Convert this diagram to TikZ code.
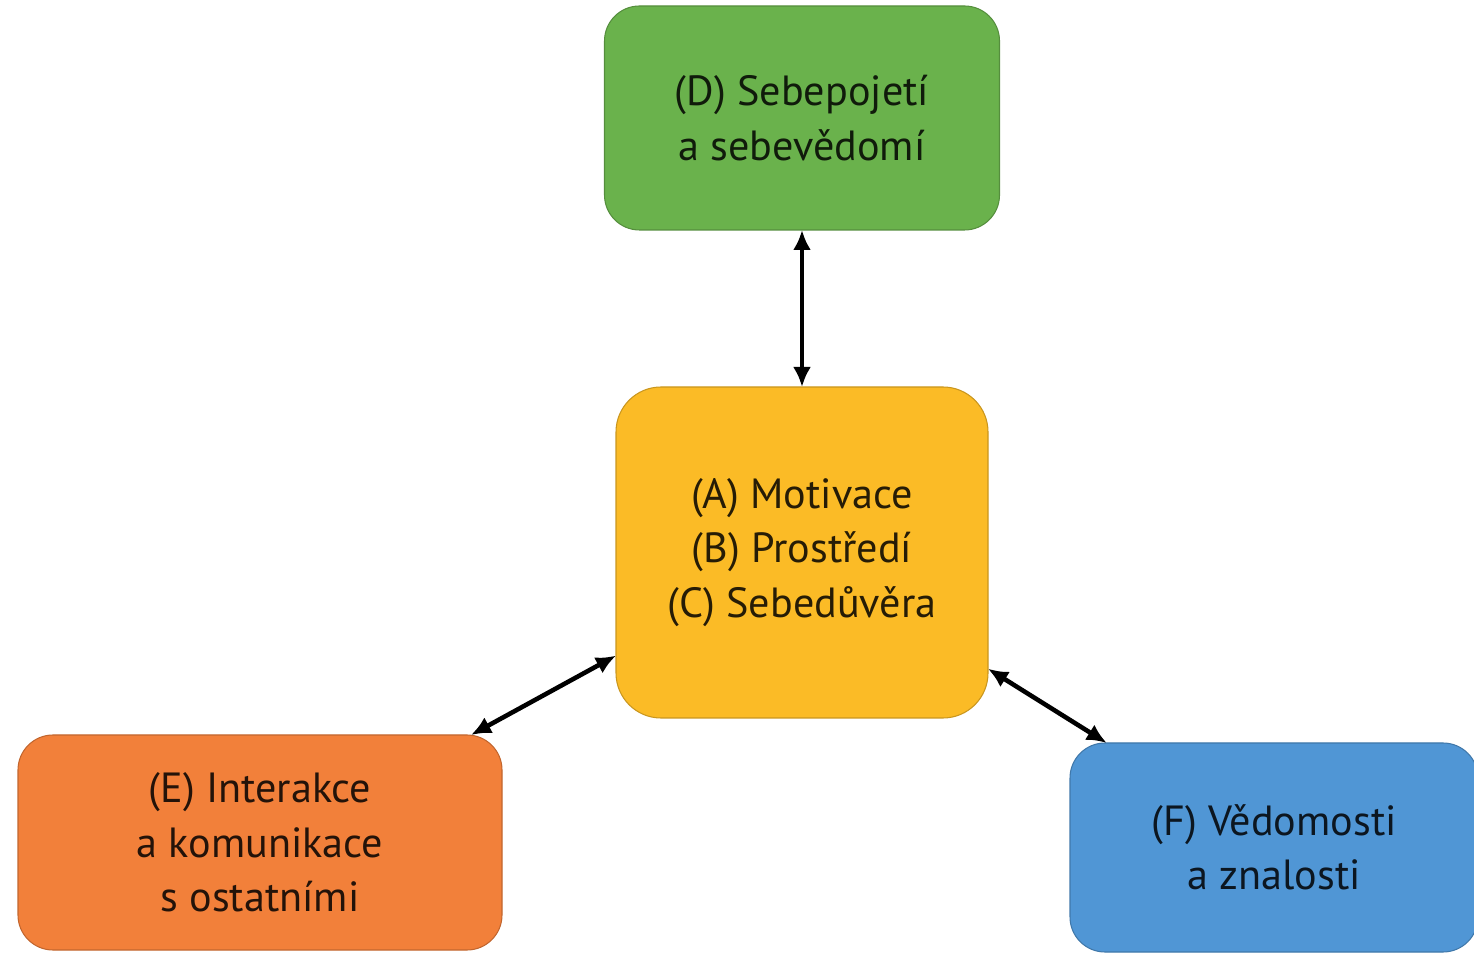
\documentclass[tikz,border=0pt]{standalone}
\usepackage{fontspec}
\setmainfont{PT Sans}
\usetikzlibrary{arrows.meta}

\definecolor{boxgreen}{RGB}{106,178,76}
\definecolor{boxyellow}{RGB}{251,187,38}
\definecolor{boxorange}{RGB}{242,128,58}
\definecolor{boxblue}{RGB}{80,150,213}

\tikzset{
  pillar/.style={rectangle,rounded corners=0.7cm,align=center,outer sep=0pt,line width=0.6pt,
    font=\fontsize{24}{31}\selectfont,draw=#1!80!black,fill=#1,text=#1!15!black},
}

\begin{document}
\begin{tikzpicture}[<->,>={Latex[length=4mm,width=3.6mm]},line width=2.6pt]
\useasboundingbox (0,0) rectangle (29.48,19.08);
\begin{scope}

\node[pillar=boxgreen,minimum width=7.9cm,minimum height=4.48cm] (sebe) at (16.04,16.72) {(D) Sebepojetí\\a sebevědomí};
\node[pillar=boxyellow,minimum width=7.44cm,minimum height=6.62cm,rounded corners=0.9cm] (mot) at (16.04,8.03) {(A) Motivace\\(B) Prostředí\\(C) Sebedůvěra};
\node[pillar=boxorange,minimum width=9.68cm,minimum height=4.3cm] (inter) at (5.2,2.23) {(E) Interakce\\a komunikace\\s ostatními};
\node[pillar=boxblue,minimum width=8.16cm,minimum height=4.18cm] (ved) at (25.48,2.13) {(F) Vědomosti\\a znalosti};

\draw (sebe.south) -- (mot.north);
\draw (mot.209) -- (inter.27);
\draw (mot.-32) -- (ved.148);

\end{scope}
\end{tikzpicture}
\end{document}
